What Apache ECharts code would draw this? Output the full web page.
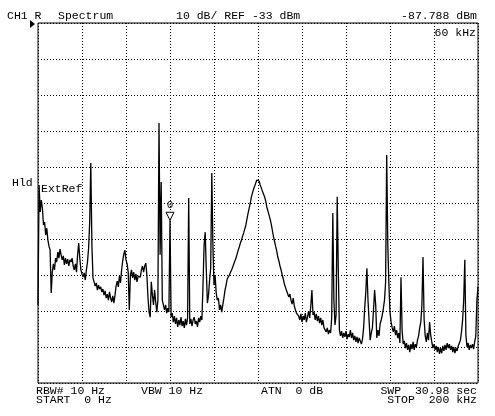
<!DOCTYPE html>
<html>
<head>
<meta charset="utf-8">
<script src="https://cdn.jsdelivr.net/npm/echarts@6/dist/echarts.min.js"></script>
<style>
html,body{margin:0;padding:0;background:#fff;}
#c{width:495px;height:416px;}
</style>
</head>
<body>
<div id="c"></div>
<script>
// Sweep: 401 points, START 0 Hz, STOP 200 kHz
const freqStartKHz = 0;
const freqStepKHz = 0.5;
// Trace levels (dBm), one per sweep point
const levels = [
-111.3,-78.0,-85.5,-82.2,-84.4,-89.1,-88.3,-91.9,-90.0,-93.3,
-95.0,-96.1,-108.0,-102.2,-99.9,-101.6,-98.3,-99.4,-96.6,-98.3,
-95.8,-97.4,-98.8,-97.7,-100.2,-98.3,-99.9,-98.6,-100.5,-98.8,
-99.4,-98.3,-100.5,-101.6,-99.9,-102.2,-97.4,-94.1,-98.3,-101.6,
-102.7,-103.6,-102.4,-104.4,-101.6,-99.4,-95.5,-88.3,-71.9,-94.7,
-103.8,-104.9,-106.1,-105.2,-107.2,-105.8,-106.9,-106.3,-107.7,-106.9,
-108.6,-107.4,-109.4,-108.3,-110.0,-107.7,-109.4,-110.5,-108.8,-110.8,
-108.6,-106.1,-104.7,-106.3,-103.3,-105.2,-101.6,-99.1,-97.2,-96.1,
-98.8,-99.9,-102.2,-112.7,-103.0,-101.6,-103.8,-102.2,-104.4,-102.7,
-104.9,-103.3,-103.0,-103.6,-101.6,-100.5,-102.2,-100.5,-99.7,-103.0,
-109.4,-113.3,-114.7,-104.9,-108.6,-111.3,-107.2,-110.5,-113.3,-110.0,
-60.8,-97.4,-77.2,-110.0,-110.5,-112.7,-111.3,-113.6,-112.2,-113.3,
-87.788,-114.7,-113.6,-116.1,-114.4,-116.6,-114.9,-117.4,-115.5,-116.9,
-114.7,-117.2,-115.8,-117.7,-115.2,-116.9,-114.9,-81.6,-116.6,-115.2,
-117.2,-115.5,-114.7,-116.6,-115.8,-117.4,-114.9,-116.1,-114.4,-115.5,
-105.8,-94.7,-91.1,-101.6,-110.8,-108.6,-104.4,-101.1,-74.7,-94.7,
-105.8,-103.0,-108.0,-110.0,-109.4,-112.7,-111.3,-113.3,-111.3,-109.4,
-107.2,-105.8,-104.1,-103.6,-103.0,-102.2,-101.6,-100.8,-99.9,-99.4,
-98.3,-97.2,-96.1,-95.2,-94.1,-93.3,-92.2,-91.3,-90.2,-89.1,
-87.4,-85.8,-84.4,-83.0,-81.3,-80.2,-79.1,-78.3,-77.4,-76.6,
-76.1,-76.9,-78.0,-78.8,-79.7,-80.5,-81.3,-82.4,-84.1,-85.2,
-86.3,-87.4,-88.8,-90.5,-92.2,-93.6,-95.0,-96.3,-98.0,-99.1,
-100.5,-101.6,-103.0,-104.1,-105.5,-105.2,-107.4,-107.7,-109.1,-108.3,
-110.0,-111.1,-109.4,-111.6,-112.7,-113.6,-113.3,-114.4,-115.5,-113.8,
-116.1,-114.4,-115.5,-113.6,-116.1,-114.7,-113.0,-114.9,-111.6,-107.2,
-114.1,-113.3,-115.5,-113.8,-115.8,-114.4,-116.4,-114.9,-116.9,-115.5,
-117.7,-117.7,-118.8,-117.7,-119.4,-118.3,-119.1,-114.9,-85.8,-110.0,
-116.9,-114.1,-81.3,-101.6,-118.3,-119.9,-118.6,-120.5,-119.1,-120.2,
-118.6,-120.8,-119.4,-120.2,-118.3,-120.5,-119.1,-121.1,-119.9,-121.6,
-120.2,-121.9,-120.5,-121.3,-122.2,-120.8,-117.7,-112.2,-107.7,-101.1,
-110.0,-115.8,-121.1,-119.1,-117.7,-112.7,-107.2,-111.3,-120.5,-118.3,
-119.9,-116.6,-115.5,-114.1,-112.2,-110.0,-105.0,-69.7,-94.7,-105.8,
-113.3,-116.1,-117.7,-118.8,-117.2,-119.7,-118.3,-120.5,-119.1,-121.9,
-103.6,-118.3,-122.2,-121.3,-123.3,-121.9,-123.8,-122.4,-124.4,-122.2,
-123.6,-121.6,-123.8,-122.2,-123.0,-121.1,-119.9,-117.7,-116.1,-111.4,
-98.0,-115.2,-119.9,-121.6,-119.1,-121.1,-116.1,-119.7,-121.6,-123.3,
-122.2,-123.8,-122.7,-124.4,-123.0,-124.9,-123.3,-124.7,-122.7,-124.1,
-122.4,-123.8,-121.9,-123.3,-122.2,-123.8,-122.7,-124.4,-123.0,-124.7,
-123.3,-124.1,-122.7,-122.4,-121.1,-118.8,-115.5,-110.0,-98.8,-119.7,
-123.0,-121.9,-123.8,-122.4,-123.3,-122.2,-123.6,-121.6,-119.9,-110.0,
-106.3
];
// Axis settings
const refLevel = -33;       // dBm, top of screen
const dbPerDiv = 10;
const divisions = 10;
const freqStopKHz = 200;
const freqPerDiv = 20;
// Marker
const markerFreq = 60;
const markerLevel = -87.788;

const data = levels.map((v, i) => [freqStartKHz + i * freqStepKHz, v]);
const FONT = '11.5px "Liberation Mono", "DejaVu Sans Mono", monospace';

const chart = echarts.init(document.getElementById('c'), null, {renderer: 'canvas'});
function txt(t, x, y, align) {
  return {type: 'text', silent: true, style: {text: t, x: x, y: y, font: FONT, fill: '#000',
    textAlign: align || 'left', textVerticalAlign: 'middle'}};
}
chart.setOption({
  animation: false,
  backgroundColor: '#fff',
  grid: {left: 38, top: 23, right: 17, bottom: 33, show: true, borderColor: '#000', borderWidth: 1, backgroundColor: 'transparent'},
  xAxis: {
    type: 'value', min: freqStartKHz, max: freqStopKHz, interval: freqPerDiv,
    axisLine: {show: false}, axisTick: {show: false}, axisLabel: {show: false},
    splitLine: {show: true, lineStyle: {color: '#000', width: 1, type: [1, 2]}}
  },
  yAxis: [{
    type: 'value', min: refLevel - dbPerDiv * divisions, max: refLevel,
    axisLine: {show: false}, axisTick: {show: false}, axisLabel: {show: false},
    splitLine: {show: false}
  }, {
    type: 'value', min: 0, max: divisions, interval: 1,
    axisLine: {show: false}, axisTick: {show: false}, axisLabel: {show: false},
    splitLine: {show: true, lineStyle: {color: '#000', width: 1, type: [1, 2]}}
  }],
  series: [{
    type: 'line', data: data, yAxisIndex: 0, showSymbol: false, symbol: 'none',
    lineStyle: {color: '#000', width: 1.3}, silent: true,
    markPoint: {
      silent: true,
      symbol: 'path://M0,0 L10,0 L5,10 Z',
      symbolSize: [8, 8],
      symbolOffset: [0, -4],
      itemStyle: {color: '#fff', borderColor: '#000', borderWidth: 1},
      label: {show: true, position: 'top', distance: 1, formatter: '0', color: '#000',
        fontFamily: '"Liberation Mono", "DejaVu Sans Mono", monospace', fontSize: 11},
      data: [{coord: [markerFreq, markerLevel]}]
    }
  }],
  graphic: [
    txt('CH1 R', 7, 16),
    txt('Spectrum', 58, 16),
    txt('10 dB/ REF -33 dBm', 176, 16),
    txt('-87.788 dBm', 477, 16, 'right'),
    txt('60 kHz', 476, 33, 'right'),
    txt('Hld', 12, 183),
    txt('ExtRef', 41, 189),
    txt('RBW# 10 Hz', 36, 391),
    txt('VBW 10 Hz', 141, 391),
    txt('ATN  0 dB', 261, 391),
    txt('SWP  30.98 sec', 477, 391, 'right'),
    txt('START  0 Hz', 36, 400),
    txt('STOP  200 kHz', 477, 400, 'right'),
    {type: 'polygon', silent: true, shape: {points: [[30, 20], [30, 28], [35, 24]]}, style: {fill: '#000'}}
  ]
});
</script>
</body>
</html>
